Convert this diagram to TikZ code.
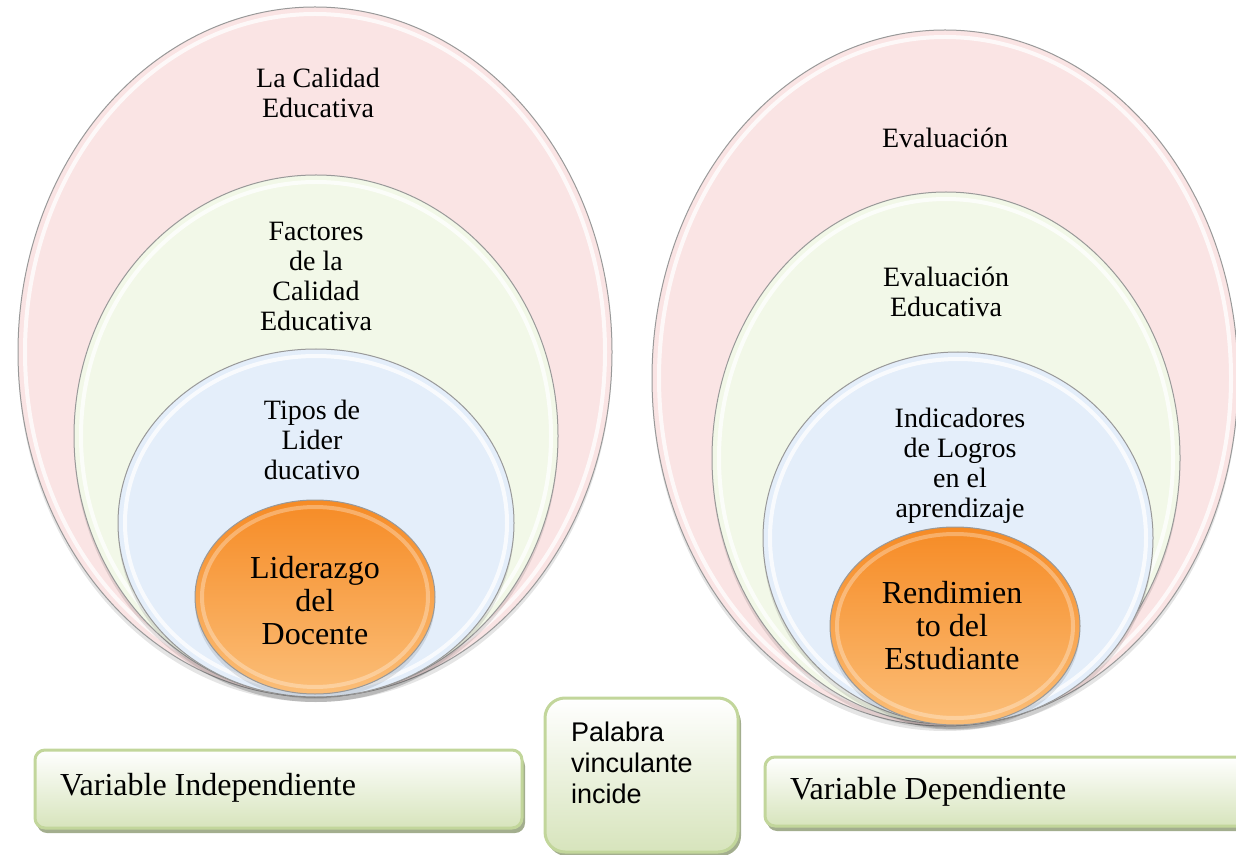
\documentclass[tikz,border=0pt]{standalone}
\usepackage{fontspec}
\setmainfont{Liberation Serif}
\newfontfamily\arialfont{Liberation Sans}
\usepackage{tikz}

\definecolor{rosa}{HTML}{FAE4E4}
\definecolor{verde}{HTML}{F2F8E8}
\definecolor{azul}{HTML}{E4EEFA}
\definecolor{naranjaA}{HTML}{F68B25}
\definecolor{naranjaB}{HTML}{FBBE78}
\definecolor{cajaborde}{HTML}{C2D69B}
\definecolor{cajafondo}{HTML}{D7E4BC}
\definecolor{cajasombra}{HTML}{A3AE8E}

\tikzset{
  capatxt/.style={align=center, font=\fontsize{14}{15}\selectfont},
  nucleotxt/.style={align=center, font=\fontsize{16}{16.5}\selectfont},
  caja/.style={draw=cajaborde, line width=1.5pt, top color=white, bottom color=cajafondo},
  cajasomb/.style={fill=cajasombra},
  vartxt/.style={anchor=west, font=\fontsize{16}{18}\selectfont}
}

\begin{document}
\begin{tikzpicture}[x=0.5pt, y=-0.5pt]

  \useasboundingbox (0,0) rectangle (1236,855);

  % one layer: [ring opacity] cx, cy, rx, ry (px), fill keys
  \newcommand\capa[6][0.75]{
    \fill[black, opacity=0.10] (#2,#3+5) ellipse [x radius={#4*0.5pt}, y radius={#5*0.5pt}];
    \path[#6, draw=black!40, line width=0.5pt] (#2,#3) ellipse [x radius={#4*0.5pt}, y radius={#5*0.5pt}];
    \draw[white, line width=2pt, opacity=#1] (#2,#3) ellipse [x radius={(#4-7)*0.5pt}, y radius={(#5-7)*0.5pt}];
  }

  %% variable independiente
  \capa{315}{352}{297}{345}{fill=rosa}
  \capa{316}{436}{242}{261}{fill=verde}
  \capa{316}{523}{198}{174}{fill=azul}
  \capa[0.3]{315}{597}{120}{97}{top color=naranjaA, bottom color=naranjaB}

  \node[capatxt] (calidad) at (318,93) {La Calidad\\Educativa};
  \node[capatxt] (factores) at (316,276) {Factores\\de la\\Calidad\\Educativa};
  \node[capatxt] (tipos) at (312,440) {Tipos de\\Lider\\ducativo};
  \node[nucleotxt] (liderazgo) at (315,601) {Liderazgo\\del\\Docente};

  %% variable dependiente
  \capa{945}{378}{293}{348}{fill=rosa}
  \capa{946}{458}{234}{266}{fill=verde}
  \capa{958}{538}{195}{186}{fill=azul}
  \capa[0.3]{955}{626}{125}{99}{top color=naranjaA, bottom color=naranjaB}

  \node[capatxt] (evaluacion) at (945,138) {Evaluación};
  \node[capatxt] (evaledu) at (946,292) {Evaluación\\Educativa};
  \node[capatxt] (indicadores) at (960,466) {Indicadores\\de Logros\\en el\\aprendizaje};
  \node[nucleotxt] (rendimiento) at (952,626) {Rendimien\\to del\\Estudiante};

  %% etiquetas
  \fill[cajasomb, rounded corners=5pt] (37,756) rectangle (525,833);
  \draw[caja, rounded corners=5pt] (35,750) rectangle (522,828);
  \node[vartxt] (indep) at (53,788) {Variable Independiente};

  \fill[cajasomb, rounded corners=10pt] (547,703) rectangle (741,856);
  \draw[caja, rounded corners=10pt] (545,698) rectangle (738,852);
  \node[anchor=west, align=left, font=\arialfont\fontsize{13.5}{15.5}\selectfont] (palabra) at (564,763) {Palabra\\vinculante\\incide};

  \fill[cajasomb, rounded corners=5pt] (767,762) rectangle (1250,831);
  \draw[caja, rounded corners=5pt] (765,757) rectangle (1248,826);
  \node[vartxt] (dep) at (783,792) {Variable Dependiente};

\end{tikzpicture}
\end{document}
